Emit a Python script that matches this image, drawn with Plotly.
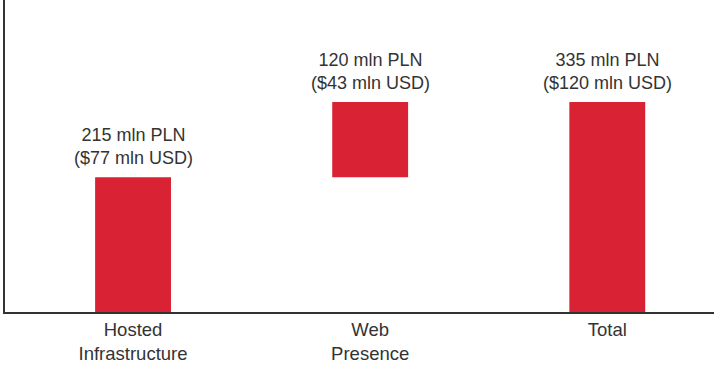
import plotly.graph_objects as go

categories = ["Hosted<br>Infrastructure", "Web<br>Presence", "Total"]
values = [215, 120, 0]
measures = ["absolute", "relative", "total"]
pln_labels = ["215 mln PLN", "120 mln PLN", "335 mln PLN"]
usd_labels = ["($77 mln USD)", "($43 mln USD)", "($120 mln USD)"]

red = "#D92234"
font_family = "Liberation Sans, Arial, sans-serif"

fig = go.Figure(go.Waterfall(
    x=categories,
    y=values,
    measure=measures,
    width=0.32,
    increasing=dict(marker=dict(color=red)),
    decreasing=dict(marker=dict(color=red)),
    totals=dict(marker=dict(color=red)),
    connector=dict(visible=False),
    hoverinfo="skip",
))

# label positions: running top of each bar
tops = []
running = 0
for v, m in zip(values, measures):
    if m == "absolute":
        running = v
    elif m == "relative":
        running += v
    tops.append(running)

for cat, top, p, u in zip(categories, tops, pln_labels, usd_labels):
    fig.add_annotation(
        x=cat, y=top, text=f"{p}<br>{u}",
        showarrow=False, yanchor="bottom", yshift=7,
        font=dict(size=18, color="#333333", family=font_family),
    )

fig.update_layout(
    width=714, height=366,
    margin=dict(l=5, r=0, t=0, b=54, autoexpand=False),
    paper_bgcolor="white", plot_bgcolor="white",
    showlegend=False,
    font=dict(family=font_family, size=18, color="#333333"),
)
fig.update_xaxes(
    type="category", range=[-0.54, 2.45],
    automargin=False,
    showline=True, linecolor="#333333", linewidth=1.5,
    showgrid=False, ticks="", zeroline=False,
    ticklabelstandoff=0,
    tickfont=dict(size=18.5, color="#333333"),
)
fig.update_yaxes(
    range=[0, 498],
    automargin=False,
    showline=True, linecolor="#333333", linewidth=1.5,
    showgrid=False, showticklabels=False, ticks="", zeroline=False,
)

fig.write_html("out.html")
